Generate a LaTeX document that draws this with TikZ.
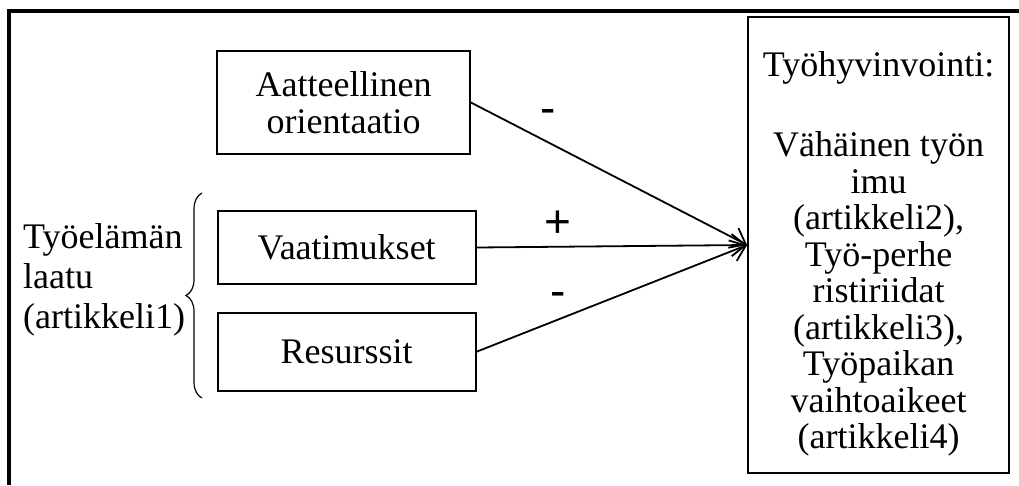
\documentclass[tikz,border=0pt]{standalone}
\usepackage{fontspec}
\setmainfont{Liberation Serif}
\newfontfamily\signfont{Liberation Sans}
\usepackage{tikz}
\usetikzlibrary{arrows.meta,positioning,decorations.pathreplacing}
\tikzset{
  box/.style={rectangle,draw=black,line width=1.8pt,align=center,
              inner sep=0pt,font=\fontsize{36}{36.5}\selectfont},
  arr/.style={-{Straight Barb[length=14pt,width=22pt]},line width=1.8pt},
  sign/.style={inner sep=0pt,font=\signfont\fontsize{46}{46}\selectfont},
}

\begin{document}
\begin{tikzpicture}[x=1pt,y=-1pt]
  \useasboundingbox (0,0) rectangle (1019,485);

  % outer frame (only top and left show)
  \draw[line width=4pt] (9,485) -- (9,11) -- (1019,11);

  \node[box,minimum width=253pt,minimum height=103pt] (aat) at (343.5,102.5)
        {Aatteellinen\\orientaatio};
  \node[box,minimum width=258pt,minimum height=73pt]  (vaa) at (346.7,247.5)
        {Vaatimukset};
  \node[box,minimum width=258pt,minimum height=78pt]  (res) at (346.7,351.7)
        {Resurssit};

  \node[box,minimum width=261pt,minimum height=456pt] (tyo) at (878.5,245)
        {\rule{0pt}{43pt}Työhyvinvointi:\\[44pt]
         Vähäinen työn\\imu\\(artikkeli2),\\Työ-perhe\\ristiriidat\\
         (artikkeli3),\\Työpaikan\\vaihtoaikeet\\(artikkeli4)};

  \node[anchor=west,inner sep=0pt,align=left,
        font=\fontsize{36}{40}\selectfont] (lat) at (23,280)
        {Työelämän\\laatu\\(artikkeli1)};

  \coordinate (brt) at (202,193);
  \coordinate (brb) at (202,398);
  \draw[line width=1.2pt,decorate,decoration={brace,amplitude=16pt}] (brb) -- (brt);

  \draw[arr] (aat.east) -- node[sign,pos=0.28,yshift=26pt]{-} (tyo.west);
  \draw[arr] (vaa.east) -- node[sign,pos=0.30,yshift=22.5pt]{+} (tyo.west);
  \draw[arr] (res.east) -- node[sign,pos=0.30,yshift=20pt]{-} (tyo.west);

\end{tikzpicture}
\end{document}
